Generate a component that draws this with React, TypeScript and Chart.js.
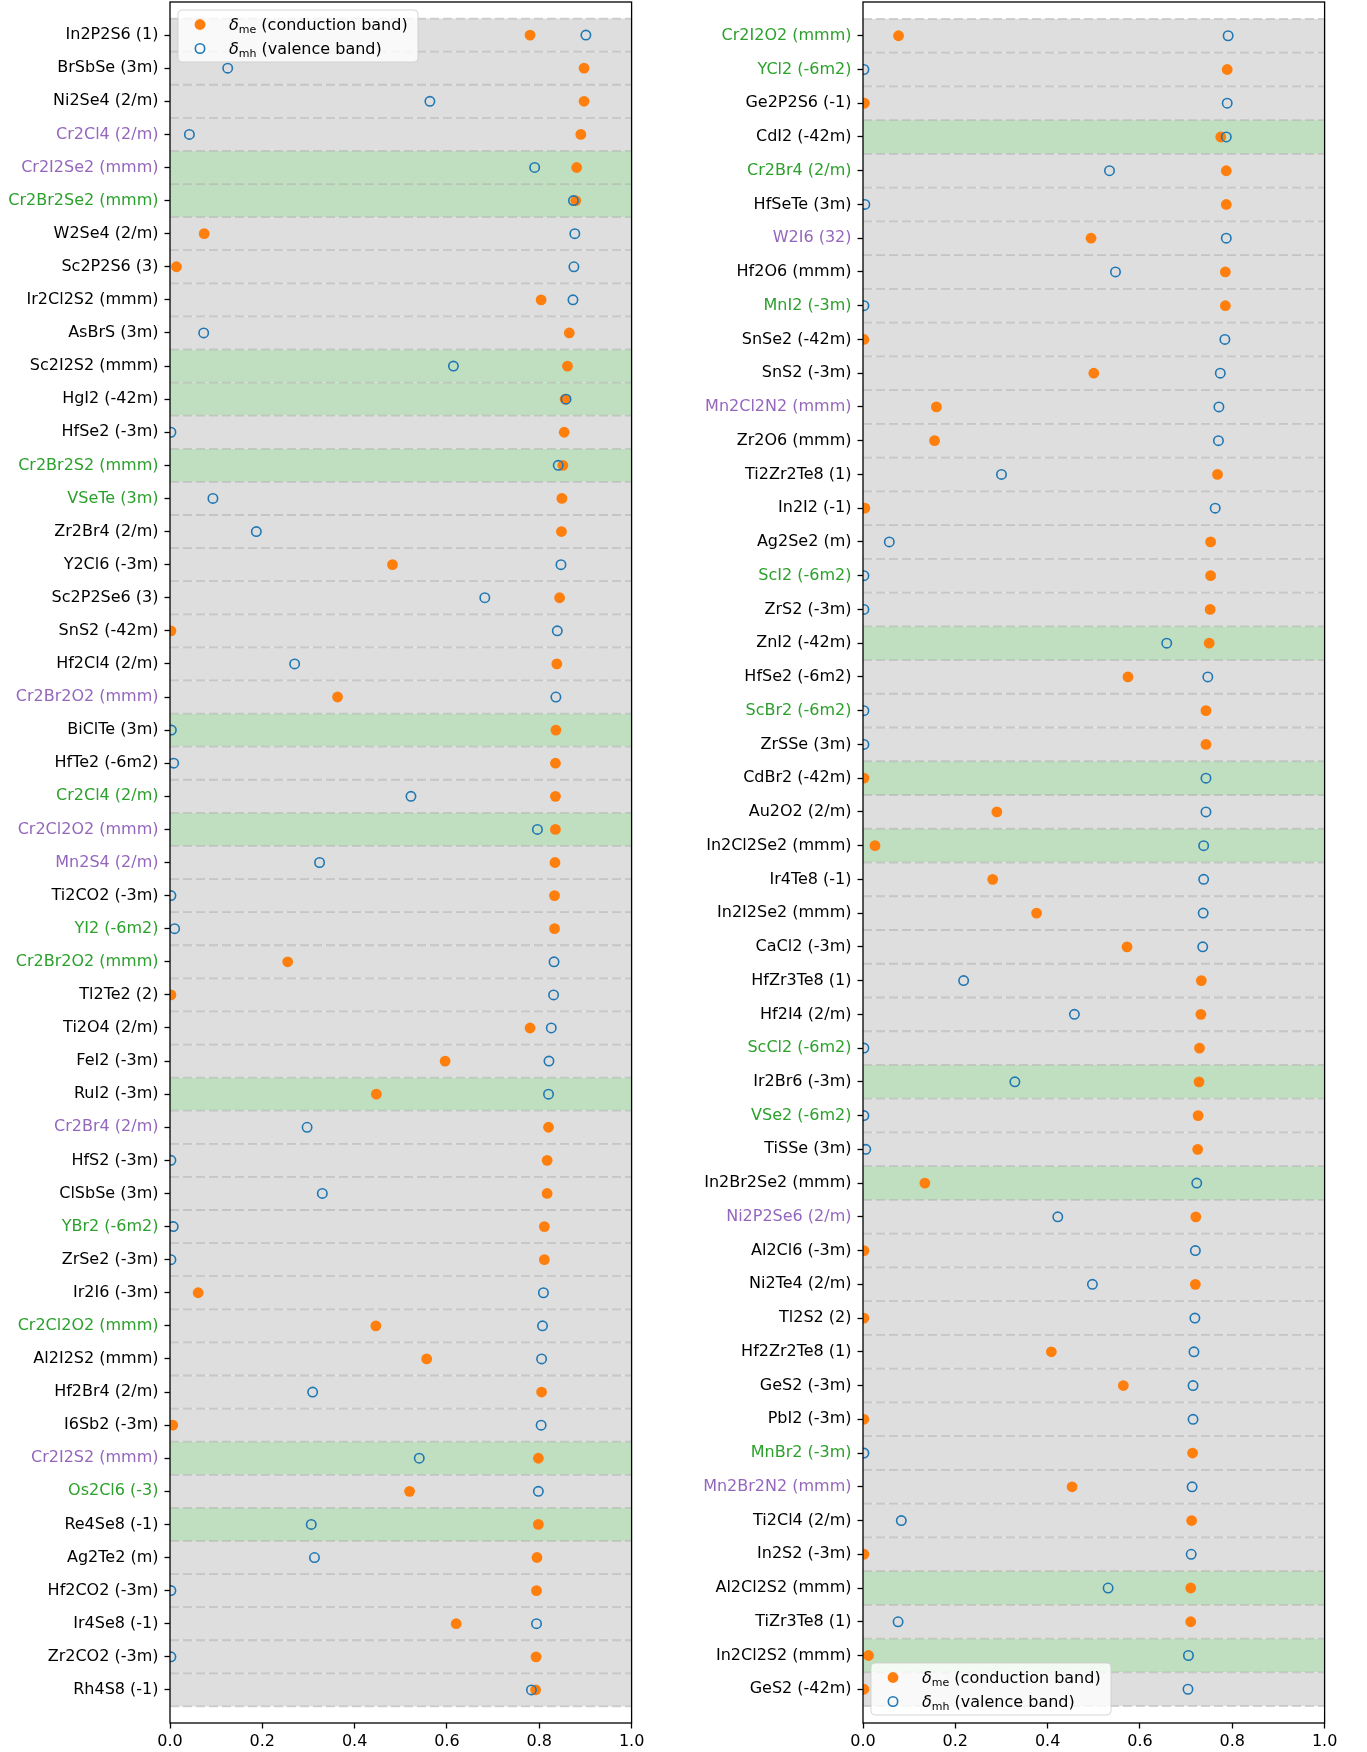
import { useEffect, useRef } from 'react';
import { Chart, registerables } from 'chart.js';

Chart.register(...registerables);

const FONT = '"DejaVu Sans", sans-serif';

// ---------- Left panel ----------
const leftLabels = [
  'In2P2S6 (1)', 'BrSbSe (3m)', 'Ni2Se4 (2/m)', 'Cr2Cl4 (2/m)', 'Cr2I2Se2 (mmm)', 'Cr2Br2Se2 (mmm)',
  'W2Se4 (2/m)', 'Sc2P2S6 (3)', 'Ir2Cl2S2 (mmm)', 'AsBrS (3m)', 'Sc2I2S2 (mmm)', 'HgI2 (-42m)',
  'HfSe2 (-3m)', 'Cr2Br2S2 (mmm)', 'VSeTe (3m)', 'Zr2Br4 (2/m)', 'Y2Cl6 (-3m)', 'Sc2P2Se6 (3)',
  'SnS2 (-42m)', 'Hf2Cl4 (2/m)', 'Cr2Br2O2 (mmm)', 'BiClTe (3m)', 'HfTe2 (-6m2)', 'Cr2Cl4 (2/m)',
  'Cr2Cl2O2 (mmm)', 'Mn2S4 (2/m)', 'Ti2CO2 (-3m)', 'YI2 (-6m2)', 'Cr2Br2O2 (mmm)', 'Tl2Te2 (2)',
  'Ti2O4 (2/m)', 'FeI2 (-3m)', 'RuI2 (-3m)', 'Cr2Br4 (2/m)', 'HfS2 (-3m)', 'ClSbSe (3m)',
  'YBr2 (-6m2)', 'ZrSe2 (-3m)', 'Ir2I6 (-3m)', 'Cr2Cl2O2 (mmm)', 'Al2I2S2 (mmm)', 'Hf2Br4 (2/m)',
  'I6Sb2 (-3m)', 'Cr2I2S2 (mmm)', 'Os2Cl6 (-3)', 'Re4Se8 (-1)', 'Ag2Te2 (m)', 'Hf2CO2 (-3m)',
  'Ir4Se8 (-1)', 'Zr2CO2 (-3m)', 'Rh4S8 (-1)',
];
const leftMe = [
  0.780, 0.897, 0.897, 0.890, 0.881, 0.879, 0.074, 0.014, 0.804, 0.865, 0.861, 0.856,
  0.854, 0.851, 0.849, 0.848, 0.482, 0.844, 0.002, 0.838, 0.363, 0.836, 0.835, 0.835,
  0.835, 0.834, 0.833, 0.833, 0.255, 0.002, 0.780, 0.596, 0.447, 0.820, 0.817, 0.817,
  0.811, 0.811, 0.061, 0.446, 0.556, 0.805, 0.006, 0.798, 0.519, 0.798, 0.795, 0.794,
  0.620, 0.793, 0.792,
];
const leftMh = [
  0.901, 0.125, 0.563, 0.042, 0.790, 0.874, 0.877, 0.875, 0.873, 0.073, 0.614, 0.858,
  0.002, 0.841, 0.093, 0.187, 0.847, 0.682, 0.839, 0.270, 0.836, 0.003, 0.008, 0.522,
  0.796, 0.324, 0.002, 0.010, 0.832, 0.831, 0.826, 0.821, 0.820, 0.297, 0.002, 0.330,
  0.007, 0.002, 0.809, 0.807, 0.805, 0.309, 0.804, 0.540, 0.798, 0.306, 0.313, 0.002,
  0.794, 0.002, 0.783,
];
// k = black, g = green, p = purple
const leftLabelColors = [
  'k', 'k', 'k', 'p', 'p', 'g', 'k', 'k', 'k', 'k', 'k', 'k',
  'k', 'g', 'g', 'k', 'k', 'k', 'k', 'k', 'p', 'k', 'k', 'g',
  'p', 'p', 'k', 'g', 'g', 'k', 'k', 'k', 'k', 'p', 'k', 'k',
  'g', 'k', 'k', 'g', 'k', 'k', 'k', 'p', 'g', 'k', 'k', 'k',
  'k', 'k', 'k',
];
const leftHighlighted = [4, 5, 10, 11, 13, 21, 24, 32, 43, 45];

// ---------- Right panel ----------
const rightLabels = [
  'Cr2I2O2 (mmm)', 'YCl2 (-6m2)', 'Ge2P2S6 (-1)', 'CdI2 (-42m)', 'Cr2Br4 (2/m)', 'HfSeTe (3m)',
  'W2I6 (32)', 'Hf2O6 (mmm)', 'MnI2 (-3m)', 'SnSe2 (-42m)', 'SnS2 (-3m)', 'Mn2Cl2N2 (mmm)',
  'Zr2O6 (mmm)', 'Ti2Zr2Te8 (1)', 'In2I2 (-1)', 'Ag2Se2 (m)', 'ScI2 (-6m2)', 'ZrS2 (-3m)',
  'ZnI2 (-42m)', 'HfSe2 (-6m2)', 'ScBr2 (-6m2)', 'ZrSSe (3m)', 'CdBr2 (-42m)', 'Au2O2 (2/m)',
  'In2Cl2Se2 (mmm)', 'Ir4Te8 (-1)', 'In2I2Se2 (mmm)', 'CaCl2 (-3m)', 'HfZr3Te8 (1)', 'Hf2I4 (2/m)',
  'ScCl2 (-6m2)', 'Ir2Br6 (-3m)', 'VSe2 (-6m2)', 'TiSSe (3m)', 'In2Br2Se2 (mmm)', 'Ni2P2Se6 (2/m)',
  'Al2Cl6 (-3m)', 'Ni2Te4 (2/m)', 'Tl2S2 (2)', 'Hf2Zr2Te8 (1)', 'GeS2 (-3m)', 'PbI2 (-3m)',
  'MnBr2 (-3m)', 'Mn2Br2N2 (mmm)', 'Ti2Cl4 (2/m)', 'In2S2 (-3m)', 'Al2Cl2S2 (mmm)', 'TiZr3Te8 (1)',
  'In2Cl2S2 (mmm)', 'GeS2 (-42m)',
];
const rightMe = [
  0.077, 0.789, 0.003, 0.775, 0.787, 0.787, 0.494, 0.785, 0.785, 0.002, 0.500, 0.159,
  0.155, 0.768, 0.004, 0.753, 0.753, 0.752, 0.750, 0.574, 0.743, 0.743, 0.002, 0.290,
  0.026, 0.281, 0.376, 0.572, 0.733, 0.732, 0.729, 0.728, 0.726, 0.725, 0.134, 0.721,
  0.002, 0.720, 0.002, 0.408, 0.564, 0.002, 0.714, 0.453, 0.712, 0.002, 0.710, 0.710,
  0.012, 0.002,
];
const rightMh = [
  0.791, 0.002, 0.789, 0.787, 0.534, 0.004, 0.787, 0.547, 0.002, 0.784, 0.774, 0.771,
  0.770, 0.300, 0.763, 0.057, 0.002, 0.002, 0.658, 0.747, 0.002, 0.002, 0.743, 0.743,
  0.738, 0.738, 0.737, 0.736, 0.218, 0.458, 0.002, 0.329, 0.002, 0.006, 0.723, 0.422,
  0.720, 0.497, 0.719, 0.717, 0.715, 0.715, 0.002, 0.713, 0.083, 0.711, 0.531, 0.076,
  0.705, 0.704,
];
const rightLabelColors = [
  'g', 'g', 'k', 'k', 'g', 'k', 'p', 'k', 'g', 'k', 'k', 'p',
  'k', 'k', 'k', 'k', 'g', 'k', 'k', 'k', 'g', 'k', 'k', 'k',
  'k', 'k', 'k', 'k', 'k', 'k', 'g', 'k', 'g', 'k', 'k', 'p',
  'k', 'k', 'k', 'k', 'k', 'k', 'g', 'p', 'k', 'k', 'k', 'k',
  'k', 'k',
];
const rightHighlighted = [3, 18, 22, 24, 31, 34, 46, 48];

const xTickValues = [0, 0.2, 0.4, 0.6, 0.8, 1.0];
const legendEntries = [
  { sub: 'me', text: ' (conduction band)', kind: 'me' },
  { sub: 'mh', text: ' (valence band)', kind: 'mh' },
];

const COLOR_MAP: Record<string, string> = { k: '#000000', g: '#2ca02c', p: '#9467bd' };
const ORANGE = '#ff7f0e';
const BLUE = '#1f77b4';
const GRAY_BAND = '#dedede';
const GREEN_BAND = '#c0dfc0';

type PanelProps = {
  labels: string[];
  me: number[];
  mh: number[];
  colors: string[];
  highlighted: number[];
  legendAt: 'top' | 'bottom';
  width: number;
  height: number;
  axisWidth: number;
  rightPad: number;
  left: number;
};

function Panel(props: PanelProps) {
  const ref = useRef<HTMLCanvasElement | null>(null);
  useEffect(() => {
    const canvas = ref.current;
    if (!canvas) return;
    const { labels, me, mh, colors, highlighted, legendAt, axisWidth, rightPad } = props;
    const n = labels.length;
    const hl = new Set(highlighted);

    const bandsPlugin = {
      id: 'bands',
      beforeDatasetsDraw(chart: any) {
        const { ctx, chartArea } = chart;
        const y = chart.scales.y;
        ctx.save();
        for (let i = 0; i < n; i++) {
          const t = y.getPixelForValue(i - 0.5);
          const b = y.getPixelForValue(i + 0.5);
          ctx.fillStyle = hl.has(i) ? GREEN_BAND : GRAY_BAND;
          ctx.fillRect(chartArea.left, t, chartArea.right - chartArea.left, b - t);
        }
        ctx.strokeStyle = 'rgba(175,175,175,0.55)';
        ctx.lineWidth = 1.8;
        ctx.setLineDash([9, 4]);
        for (let i = 0; i <= n; i++) {
          const p = y.getPixelForValue(i - 0.5);
          ctx.beginPath();
          ctx.moveTo(chartArea.left, p);
          ctx.lineTo(chartArea.right, p);
          ctx.stroke();
        }
        ctx.restore();
      },
      afterDatasetsDraw(chart: any) {
        const { ctx, chartArea } = chart;
        ctx.save();
        ctx.strokeStyle = '#000';
        ctx.lineWidth = 1.3;
        ctx.strokeRect(chartArea.left, chartArea.top, chartArea.right - chartArea.left, chartArea.bottom - chartArea.top);

        // legend
        const bw = 240;
        const bh = 52;
        const bx = chartArea.left + 8;
        const by = legendAt === 'top' ? chartArea.top + 8 : chartArea.bottom - 8 - bh;
        ctx.beginPath();
        const r = 4;
        ctx.moveTo(bx + r, by);
        ctx.lineTo(bx + bw - r, by);
        ctx.quadraticCurveTo(bx + bw, by, bx + bw, by + r);
        ctx.lineTo(bx + bw, by + bh - r);
        ctx.quadraticCurveTo(bx + bw, by + bh, bx + bw - r, by + bh);
        ctx.lineTo(bx + r, by + bh);
        ctx.quadraticCurveTo(bx, by + bh, bx, by + bh - r);
        ctx.lineTo(bx, by + r);
        ctx.quadraticCurveTo(bx, by, bx + r, by);
        ctx.closePath();
        ctx.fillStyle = 'rgba(255,255,255,0.8)';
        ctx.fill();
        ctx.strokeStyle = 'rgba(204,204,204,0.8)';
        ctx.lineWidth = 1;
        ctx.stroke();

        legendEntries.forEach((e, k) => {
          const cy = by + 14.5 + k * 24;
          const mx = bx + 22;
          ctx.beginPath();
          if (e.kind === 'me') {
            ctx.arc(mx, cy, 5.4, 0, Math.PI * 2);
            ctx.fillStyle = ORANGE;
            ctx.fill();
          } else {
            ctx.arc(mx, cy, 4.7, 0, Math.PI * 2);
            ctx.strokeStyle = BLUE;
            ctx.lineWidth = 1.6;
            ctx.stroke();
          }
          const base = cy + 5;
          let tx = bx + 51;
          ctx.fillStyle = '#000';
          ctx.textBaseline = 'alphabetic';
          ctx.textAlign = 'left';
          ctx.font = `italic 16px ${FONT}`;
          ctx.fillText('δ', tx, base);
          tx += ctx.measureText('δ').width;
          ctx.font = `11px ${FONT}`;
          ctx.fillText(e.sub, tx, base + 3.5);
          tx += ctx.measureText(e.sub).width;
          ctx.font = `16px ${FONT}`;
          ctx.fillText(e.text, tx, base);
        });
        ctx.restore();
      },
    };

    const chart = new Chart(canvas, {
      type: 'scatter',
      data: {
        datasets: [
          {
            label: 'δmh (valence band)',
            data: labels.map((_, i) => ({ x: mh[i], y: i })),
            pointStyle: 'circle',
            pointRadius: 4.7,
            borderWidth: 1.6,
            borderColor: BLUE,
            backgroundColor: 'rgba(0,0,0,0)',
            clip: 0,
            order: 0,
          } as any,
          {
            label: 'δme (conduction band)',
            data: labels.map((_, i) => ({ x: me[i], y: i })),
            pointStyle: 'circle',
            pointRadius: 5.4,
            borderWidth: 0,
            borderColor: ORANGE,
            backgroundColor: ORANGE,
            clip: 0,
            order: 1,
          } as any,
        ],
      },
      options: {
        animation: false,
        responsive: false,
        maintainAspectRatio: false,
        events: [],
        layout: { autoPadding: false, padding: { left: 0, right: rightPad, top: 2, bottom: 0 } },
        plugins: { legend: { display: false }, tooltip: { enabled: false } },
        scales: {
          x: {
            type: 'linear',
            position: 'bottom',
            min: 0,
            max: 1,
            afterBuildTicks: (s: any) => {
              s.ticks = xTickValues.map((v) => ({ value: v }));
            },
            afterFit: (s: any) => {
              s.height = 29;
              s.paddingLeft = 0;
              s.paddingRight = 0;
            },
            ticks: {
              autoSkip: false,
              maxRotation: 0,
              padding: 4,
              color: '#000',
              font: { family: FONT, size: 16 },
              callback: (v: any) => Number(v).toFixed(1),
            },
            grid: { drawOnChartArea: false, drawTicks: true, tickLength: 5.5, tickColor: '#000', tickWidth: 1.3 },
            border: { display: false },
          },
          y: {
            type: 'linear',
            position: 'left',
            min: -1,
            max: n,
            reverse: true,
            afterBuildTicks: (s: any) => {
              s.ticks = labels.map((_, i) => ({ value: i }));
            },
            afterFit: (s: any) => {
              s.width = axisWidth;
              s.paddingTop = 0;
              s.paddingBottom = 0;
            },
            ticks: {
              autoSkip: false,
              padding: 6,
              font: { family: FONT, size: 16 },
              color: (c: any) => {
                const v = c.tick ? c.tick.value : c.index;
                return COLOR_MAP[colors[v]] || '#000';
              },
              callback: (v: any) => labels[Math.round(Number(v))] ?? '',
            },
            grid: { drawOnChartArea: false, drawTicks: true, tickLength: 5.5, tickColor: '#000', tickWidth: 1.3 },
            border: { display: false },
          },
        },
      } as any,
      plugins: [bandsPlugin],
    });
    return () => chart.destroy();
  }, []);

  return (
    <canvas
      ref={ref}
      width={props.width}
      height={props.height}
      style={{ position: 'absolute', left: props.left, top: 0, width: props.width, height: props.height }}
    />
  );
}

export default function App() {
  return (
    <div style={{ position: 'absolute', left: 0, top: 0, width: 1367, height: 1752, background: '#ffffff' }}>
      <Panel
        labels={leftLabels}
        me={leftMe}
        mh={leftMh}
        colors={leftLabelColors}
        highlighted={leftHighlighted}
        legendAt="top"
        width={683}
        height={1752}
        axisWidth={170}
        rightPad={51.4}
        left={0}
      />
      <Panel
        labels={rightLabels}
        me={rightMe}
        mh={rightMh}
        colors={rightLabelColors}
        highlighted={rightHighlighted}
        legendAt="bottom"
        width={684}
        height={1752}
        axisWidth={180}
        rightPad={42.4}
        left={683}
      />
    </div>
  );
}
